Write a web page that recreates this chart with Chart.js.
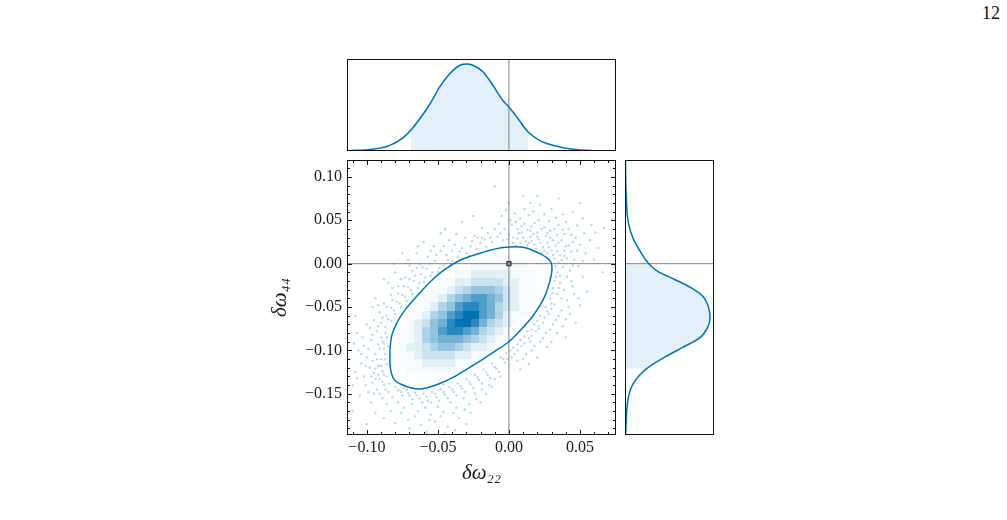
<!DOCTYPE html>
<html>
<head>
<meta charset="utf-8">
<script src="https://cdn.jsdelivr.net/npm/chart.js@4.4.1/dist/chart.umd.min.js"></script>
<style>
  body { margin: 0; background: #fff; width: 1007px; height: 520px; position: relative; overflow: hidden; }
  canvas { position: absolute; }
  #page { position: absolute; left: 982px; top: 3px; font: 18px 'Liberation Serif', serif; color: #111; }
</style>
</head>
<body>
<div id="page">12</div>
<canvas id="main" width="385" height="345" style="left:240px;top:150px"></canvas>
<canvas id="top" width="273" height="96" style="left:345px;top:57px"></canvas>
<canvas id="side" width="93" height="279" style="left:623px;top:158px"></canvas>
<script>
// axis limits of the main panel
var X_RANGE = [-0.114, 0.0754];
var Y_RANGE = [-0.1975, 0.1195];
var truthX = 0, truthY = 0;

// marginal of delta omega 22 (top)
var topX = [-0.1141,-0.0958,-0.0838,-0.0746,-0.0690,-0.0627,-0.0556,-0.0486,-0.0415,-0.0345,-0.0296,-0.0254,-0.0183,-0.0113,-0.0042,0.0000,0.0056,0.0134,0.0218,0.0338,0.0451,0.0592,0.0754];
var topDensity = [0.004,0.020,0.065,0.150,0.240,0.370,0.540,0.740,0.890,0.985,1.000,0.985,0.910,0.755,0.580,0.505,0.390,0.220,0.120,0.054,0.019,0.004,0.000];
var topShade = [-0.069, 0.0134];
var TOP_MAX = 1.057;

// marginal of delta omega 44 (right)
var sideY = [-0.1960,-0.1770,-0.1540,-0.1376,-0.1210,-0.1075,-0.0970,-0.0855,-0.0740,-0.0627,-0.0530,-0.0380,-0.0280,-0.0185,-0.0092,0.0000,0.0140,0.0280,0.0470,0.0740,0.0900,0.1180];
var sideDensity = [0.008,0.016,0.040,0.100,0.255,0.470,0.670,0.880,0.970,1.000,0.990,0.920,0.780,0.590,0.390,0.280,0.180,0.100,0.040,0.016,0.010,0.006];
var sideShade = [-0.121, 0.0];
var SIDE_MAX = 1.047;

// outer contour of the 2d posterior
var contourX = [-0.0838,-0.0825,-0.0790,-0.0730,-0.0650,-0.0560,-0.0470,-0.0345,-0.0183,-0.0042,0.0099,0.0218,0.0289,0.0303,0.0280,0.0240,0.0170,0.0080,0.0000,-0.0100,-0.0230,-0.0370,-0.0500,-0.0600,-0.0680,-0.0760,-0.0810,-0.0835];
var contourY = [-0.0994,-0.0830,-0.0686,-0.0530,-0.0378,-0.0220,-0.0090,0.0040,0.0130,0.0185,0.0190,0.0116,0.0035,-0.0069,-0.0250,-0.0420,-0.0600,-0.0770,-0.0900,-0.1010,-0.1150,-0.1290,-0.1390,-0.1440,-0.1435,-0.1390,-0.1330,-0.1200];

// 2d histogram inside the contour, level 0-9 per bin, rows from top
var histX0 = -0.0895, histDX = 0.0057, histYTop = 0.0204, histDY = 0.0093;
var histRows = [
  "000000000000000000000",
  "000000000000001100000",
  "000000000001111111000",
  "000000000112222211100",
  "000000011223333221100",
  "000000112345554321100",
  "000001124567765321100",
  "000011245788764321000",
  "000112457899764211000",
  "000123568998643210000",
  "001124578876432100000",
  "001124566654321000000",
  "001223455432210000000",
  "001123333221100000000",
  "001112222111000000000",
  "000111111100000000000",
  "000000000000000000000",
  "000000000000000000000"
];

// samples drawn outside the contour
var samples = [
  [-0.012,0.025],[-0.008,0.031],[-0.004,0.027],[0.000,0.034],[0.003,0.024],[0.006,0.029],[0.009,0.036],[0.012,0.026],[0.015,0.031],[0.018,0.022],
  [0.021,0.028],[0.024,0.019],[0.027,0.024],[0.030,0.015],[0.033,0.021],[0.036,0.010],[0.032,0.006],[0.035,0.001],[0.038,-0.004],[0.041,0.006],
  [0.044,0.014],[0.040,0.020],[0.037,0.027],[0.034,0.033],[0.029,0.038],[0.025,0.042],[0.020,0.036],[0.016,0.043],[0.011,0.046],[0.006,0.040],
  [0.002,0.045],[-0.003,0.040],[-0.007,0.046],[-0.015,0.035],[-0.019,0.041],[-0.022,0.030],[0.008,0.052],[0.014,0.056],[0.021,0.050],[0.028,0.049],
  [0.035,0.045],[0.042,0.040],[0.047,0.030],[0.050,0.022],[0.046,0.005],[0.049,-0.003],[0.054,0.012],[0.057,0.027],[0.061,0.036],[0.058,0.045],
  [0.052,0.052],[0.045,0.060],[0.038,0.057],[0.030,0.063],[0.022,0.068],[0.017,0.060],[0.004,0.058],[-0.005,0.055],[0.063,0.018],[0.067,0.041],
  [0.031,0.027],[0.026,0.032],[0.019,0.017],[0.013,0.021],[0.023,0.012],[0.016,0.026],[0.008,0.024],[0.039,0.015],[0.043,-0.008],[0.034,-0.010],
  [-0.025,0.055],[0.000,0.070],[-0.033,0.048],[0.010,0.078],[-0.010,0.089],[0.020,0.078],
  [0.005,0.021],[0.010,0.030],[0.014,0.024],[0.017,0.034],[0.022,0.024],[0.025,0.015],[0.028,0.019],[0.031,0.010],[0.034,0.014],[0.037,0.004],
  [0.033,-0.003],[0.036,-0.014],[0.039,0.009],[0.042,0.021],[0.045,0.025],[0.039,0.034],[0.032,0.040],[0.027,0.035],[0.023,0.040],[0.018,0.047],
  [0.013,0.039],[0.007,0.035],[0.003,0.030],[-0.001,0.028],[-0.006,0.035],[-0.010,0.040],[-0.013,0.030],[-0.017,0.028],[0.001,0.050],[0.011,0.063],
  [0.025,0.057],[0.033,0.053],[0.040,0.048],[0.048,0.044],[0.053,0.035],[0.048,0.015],[0.052,0.003],[0.045,-0.002],[0.041,-0.015],[0.029,0.030],
  [0.020,0.031],[0.015,0.038],[0.009,0.043],[0.005,0.048],[0.035,0.024],[0.038,0.039],[0.044,0.033],[0.027,0.012],[-0.002,0.062],[0.015,0.070],
  [-0.030,0.012],[-0.036,0.008],[-0.027,0.020],[-0.033,0.018],[-0.040,0.003],[-0.044,0.010],[-0.038,0.022],[-0.046,-0.002],[-0.050,-0.009],[-0.052,0.003],
  [-0.048,0.015],[-0.055,-0.014],[-0.058,-0.006],[-0.060,-0.021],[-0.062,-0.012],[-0.064,-0.028],[-0.067,-0.020],[-0.068,-0.035],[-0.071,-0.027],[-0.072,-0.043],
  [-0.075,-0.036],[-0.076,-0.050],[-0.079,-0.044],[-0.080,-0.058],[-0.083,-0.051],[-0.083,-0.066],[-0.086,-0.060],[-0.087,-0.073],[-0.090,-0.068],[-0.057,0.008],
  [-0.063,0.000],[-0.068,-0.008],[-0.073,-0.016],[-0.078,-0.026],[-0.083,-0.036],[-0.088,-0.046],[-0.091,-0.056],[-0.020,0.024],[-0.024,0.032],[-0.016,0.019],
  [-0.042,0.027],[-0.053,0.020],[-0.065,0.012],[-0.071,0.004],[-0.080,-0.010],[-0.094,-0.040],[-0.060,0.025],[-0.048,0.035],[-0.085,-0.022],[-0.044,-0.007],
  [-0.041,-0.001],[-0.088,-0.018],[-0.096,-0.050],[-0.075,0.012],
  [-0.028,0.009],[-0.032,0.005],[-0.035,0.014],[-0.039,-0.002],[-0.043,0.004],[-0.046,0.020],[-0.049,-0.005],[-0.051,0.010],[-0.054,-0.010],[-0.056,0.000],
  [-0.059,-0.016],[-0.061,-0.004],[-0.063,-0.022],[-0.066,-0.014],[-0.069,-0.030],[-0.070,-0.018],[-0.073,-0.038],[-0.074,-0.026],[-0.077,-0.046],[-0.078,-0.034],
  [-0.081,-0.054],[-0.082,-0.042],[-0.085,-0.064],[-0.086,-0.050],[-0.089,-0.062],[-0.023,0.017],[-0.019,0.030],[-0.026,0.026],[-0.031,0.030],[-0.037,0.034],
  [-0.040,0.015],[-0.055,0.015],[-0.065,-0.005],[-0.070,-0.002],[-0.076,-0.018],[-0.082,-0.028],[-0.092,-0.048],[-0.045,0.040],[-0.064,0.020],[-0.081,0.000],
  [-0.087,-0.080],[-0.090,-0.085],[-0.088,-0.092],[-0.093,-0.078],[-0.091,-0.098],[-0.087,-0.104],[-0.094,-0.104],[-0.090,-0.110],[-0.086,-0.116],[-0.092,-0.118],
  [-0.096,-0.112],[-0.089,-0.124],[-0.095,-0.126],[-0.086,-0.130],[-0.091,-0.133],[-0.098,-0.120],[-0.099,-0.098],[-0.097,-0.088],[-0.100,-0.108],[-0.102,-0.130],
  [-0.096,-0.137],[-0.088,-0.140],[-0.093,-0.145],[-0.099,-0.148],[-0.104,-0.115],[-0.106,-0.100],[-0.103,-0.085],[-0.100,-0.070],[-0.095,-0.065],[-0.108,-0.125],
  [-0.110,-0.140],[-0.105,-0.152],[-0.097,-0.160],[-0.085,-0.148],[-0.084,-0.138],[-0.089,-0.155],[-0.112,-0.110],[-0.107,-0.080],[-0.085,-0.095],
  [-0.086,-0.085],[-0.089,-0.090],[-0.092,-0.093],[-0.088,-0.098],[-0.093,-0.110],[-0.087,-0.110],[-0.090,-0.118],[-0.094,-0.121],[-0.088,-0.128],[-0.092,-0.128],
  [-0.089,-0.136],[-0.094,-0.133],[-0.097,-0.130],[-0.101,-0.118],[-0.102,-0.095],[-0.096,-0.082],[-0.092,-0.072],[-0.098,-0.074],[-0.104,-0.104],[-0.101,-0.140],
  [-0.095,-0.150],[-0.091,-0.150],[-0.087,-0.145],[-0.107,-0.132],[-0.109,-0.092],
  [-0.080,-0.142],[-0.076,-0.148],[-0.072,-0.145],[-0.070,-0.152],[-0.066,-0.149],[-0.063,-0.155],[-0.060,-0.150],[-0.057,-0.158],[-0.054,-0.148],[-0.051,-0.154],
  [-0.048,-0.145],[-0.045,-0.151],[-0.042,-0.142],[-0.039,-0.148],[-0.036,-0.138],[-0.033,-0.144],[-0.030,-0.133],[-0.027,-0.139],[-0.024,-0.128],[-0.021,-0.134],
  [-0.018,-0.122],[-0.015,-0.128],[-0.012,-0.115],[-0.009,-0.121],[-0.006,-0.108],[-0.003,-0.114],[-0.078,-0.160],[-0.074,-0.166],[-0.068,-0.162],[-0.064,-0.170],
  [-0.059,-0.166],[-0.055,-0.174],[-0.050,-0.165],[-0.046,-0.171],[-0.041,-0.160],[-0.037,-0.166],[-0.032,-0.155],[-0.028,-0.162],[-0.024,-0.150],[-0.019,-0.145],
  [-0.014,-0.140],[-0.010,-0.133],[-0.083,-0.170],[-0.088,-0.178],[-0.080,-0.184],[-0.071,-0.180],[-0.062,-0.186],[-0.052,-0.182],[-0.043,-0.188],[-0.035,-0.178],
  [-0.027,-0.172],[-0.020,-0.160],[-0.094,-0.172],[-0.100,-0.185],[-0.058,-0.194],[-0.038,-0.192],[-0.074,-0.143],[-0.046,-0.139],
  [-0.078,-0.146],[-0.075,-0.152],[-0.071,-0.149],[-0.068,-0.156],[-0.065,-0.152],[-0.061,-0.160],[-0.058,-0.153],[-0.055,-0.160],[-0.052,-0.150],[-0.049,-0.158],
  [-0.046,-0.148],[-0.043,-0.155],[-0.040,-0.145],[-0.037,-0.152],[-0.034,-0.141],[-0.031,-0.148],[-0.028,-0.136],[-0.025,-0.143],[-0.022,-0.131],[-0.019,-0.138],
  [-0.016,-0.125],[-0.013,-0.132],[-0.010,-0.119],[-0.007,-0.125],[-0.004,-0.110],[-0.082,-0.154],[-0.076,-0.172],[-0.066,-0.176],[-0.056,-0.180],[-0.048,-0.176],
  [-0.039,-0.172],[-0.031,-0.168],[-0.023,-0.156],[-0.016,-0.150],[-0.012,-0.142],[-0.006,-0.130],[-0.086,-0.162],[-0.070,-0.190],[-0.045,-0.195],[-0.030,-0.185],
  [0.033,-0.015],[0.036,-0.022],[0.031,-0.028],[0.034,-0.035],[0.029,-0.040],[0.032,-0.047],[0.026,-0.050],[0.028,-0.058],[0.022,-0.060],[0.024,-0.068],
  [0.018,-0.070],[0.019,-0.078],[0.013,-0.078],[0.014,-0.086],[0.008,-0.088],[0.009,-0.095],[0.003,-0.097],[0.004,-0.104],[-0.002,-0.103],[-0.001,-0.110],
  [0.039,-0.030],[0.041,-0.042],[0.037,-0.054],[0.033,-0.065],[0.029,-0.076],[0.024,-0.086],[0.018,-0.095],[0.012,-0.104],[0.006,-0.112],[0.044,-0.020],
  [0.046,-0.035],[0.043,-0.058],[0.038,-0.072],[0.030,-0.090],[0.020,-0.108],[0.050,-0.048],[0.052,-0.015],[0.040,-0.085],[0.008,-0.122],[0.026,-0.034],
  [0.030,-0.052],[0.021,-0.072],[0.015,-0.090],[0.055,-0.032],[0.047,-0.068],
  [0.032,-0.020],[0.035,-0.028],[0.031,-0.034],[0.030,-0.046],[0.027,-0.055],[0.025,-0.062],[0.020,-0.066],[0.021,-0.075],[0.016,-0.076],[0.016,-0.083],
  [0.011,-0.084],[0.011,-0.092],[0.006,-0.093],[0.006,-0.100],[0.001,-0.100],[0.002,-0.108],[0.037,-0.040],[0.035,-0.060],[0.031,-0.070],[0.026,-0.080],
  [0.022,-0.090],[0.016,-0.100],[0.010,-0.110],[0.042,-0.050],[0.045,-0.026],[0.040,-0.064],[0.034,-0.080],[0.027,-0.096],[0.014,-0.116],[0.049,-0.040],
  [0.060,0.005],[0.066,-0.010],[-0.110,-0.170],[-0.108,-0.060],[0.050,0.070],[0.035,0.075]
];

var BLUE = '#0173b2';
var SERIF = "'Liberation Serif', 'DejaVu Serif', serif";
Chart.defaults.font.family = SERIF;
Chart.defaults.color = '#1a1a1a';

function fmt(v) {
  if (Math.abs(v) < 1e-9) return '0.00';
  return (v < 0 ? '\u2212' : '') + Math.abs(v).toFixed(2);
}

function pts(xs, ys) {
  return xs.map(function(x, i) { return {x: x, y: ys[i]}; });
}

// box round each panel, with inward ticks on the main one
var framePlugin = {
  id: 'panelFrame',
  afterDraw: function(chart, args, opts) {
    var a = chart.chartArea, ctx = chart.ctx;
    var l = Math.round(a.left) + 0.5, r = Math.round(a.right) - 0.5;
    var t = Math.round(a.top) + 0.5, b = Math.round(a.bottom) - 0.5;
    ctx.save();
    ctx.strokeStyle = '#111';
    ctx.lineWidth = 1;
    if (opts.ticks) {
      ['x', 'y'].forEach(function(id) {
        var s = chart.scales[id];
        var k0 = Math.ceil(s.min / 0.01 - 1e-9), k1 = Math.floor(s.max / 0.01 + 1e-9);
        for (var k = k0; k <= k1; k++) {
          var len = (k % 5 === 0) ? 4.5 : 2.5;
          var p = Math.round(s.getPixelForValue(k * 0.01)) + 0.5;
          ctx.beginPath();
          if (id === 'x') {
            ctx.moveTo(p, b); ctx.lineTo(p, b - len);
            ctx.moveTo(p, t); ctx.lineTo(p, t + len);
          } else {
            ctx.moveTo(l, p); ctx.lineTo(l + len, p);
            ctx.moveTo(r, p); ctx.lineTo(r - len, p);
          }
          ctx.stroke();
        }
      });
    }
    ctx.strokeRect(l, t, r - l, b - t);
    ctx.restore();
  }
};

// white inside of the contour with the binned density on it
var densityPlugin = {
  id: 'densityCells',
  afterDatasetDraw: function(chart, args) {
    if (args.index !== 0) return;
    var xs = chart.scales.x, ys = chart.scales.y, ctx = chart.ctx, a = chart.chartArea;
    ctx.save();
    ctx.beginPath();
    ctx.rect(a.left, a.top, a.right - a.left, a.bottom - a.top);
    ctx.clip();
    ctx.beginPath();
    contourX.forEach(function(x, i) {
      var px = xs.getPixelForValue(x), py = ys.getPixelForValue(contourY[i]);
      if (i) ctx.lineTo(px, py); else ctx.moveTo(px, py);
    });
    ctx.closePath();
    ctx.fillStyle = '#fff';
    ctx.fill();
    ctx.clip();
    histRows.forEach(function(row, r) {
      for (var c = 0; c < row.length; c++) {
        var lv = +row[c];
        if (!lv) continue;
        var x0 = Math.round(xs.getPixelForValue(histX0 + c * histDX));
        var x1 = Math.round(xs.getPixelForValue(histX0 + (c + 1) * histDX));
        var y0 = Math.round(ys.getPixelForValue(histYTop - r * histDY));
        var y1 = Math.round(ys.getPixelForValue(histYTop - (r + 1) * histDY));
        ctx.fillStyle = 'rgba(1,115,178,' + Math.pow(lv / 9, 1.45).toFixed(3) + ')';
        ctx.fillRect(x0, y0, x1 - x0, y1 - y0);
      }
    });
    ctx.restore();
  }
};

var contourPts = pts(contourX, contourY);
contourPts.push(contourPts[0]);

new Chart(document.getElementById('main'), {
  type: 'scatter',
  data: {
    datasets: [
      {
        data: samples.map(function(p) { return {x: p[0], y: p[1]}; }),
        pointRadius: 1.2, pointBorderWidth: 0,
        pointBackgroundColor: 'rgba(1,115,178,0.28)',
        order: 4
      },
      {
        data: [{x: truthX, y: Y_RANGE[0]}, {x: truthX, y: Y_RANGE[1]}],
        showLine: true, borderColor: 'rgba(100,100,100,0.8)', borderWidth: 1, pointRadius: 0,
        order: 3
      },
      {
        data: [{x: X_RANGE[0], y: truthY}, {x: X_RANGE[1], y: truthY}],
        showLine: true, borderColor: 'rgba(100,100,100,0.8)', borderWidth: 1, pointRadius: 0,
        order: 3
      },
      {
        data: contourPts,
        showLine: true, borderColor: BLUE, borderWidth: 1.5, pointRadius: 0, tension: 0.3,
        order: 2
      },
      {
        data: [{x: truthX, y: truthY}],
        pointStyle: 'rect', pointRadius: 3,
        pointBackgroundColor: '#8c8c8c', pointBorderColor: '#222', pointBorderWidth: 1,
        order: 1
      }
    ]
  },
  options: {
    animation: false,
    responsive: false,
    devicePixelRatio: 1,
    layout: { padding: { top: 10, right: 9, left: 0, bottom: 0 } },
    scales: {
      x: {
        type: 'linear', min: X_RANGE[0], max: X_RANGE[1],
        grid: { display: false, drawTicks: false }, border: { display: false },
        ticks: { stepSize: 0.05, includeBounds: false, autoSkip: false, maxRotation: 0, padding: 3, font: { size: 16 }, callback: fmt },
        title: { display: true, text: 'δω₂₂', font: { size: 21, style: 'italic' }, padding: { top: 0, bottom: 9 } },
        afterFit: function(s) { s.height = 60; s.paddingLeft = 0; s.paddingRight = 0; }
      },
      y: {
        type: 'linear', min: Y_RANGE[0], max: Y_RANGE[1],
        grid: { display: false, drawTicks: false }, border: { display: false },
        ticks: { stepSize: 0.05, includeBounds: false, autoSkip: false, padding: 5, font: { size: 16 }, callback: fmt },
        title: { display: true, text: 'δω₄₄', font: { size: 21, style: 'italic' }, padding: { top: 28, bottom: 0 } },
        afterFit: function(s) { s.width = 107; s.paddingTop = 0; s.paddingBottom = 0; }
      }
    },
    plugins: { legend: { display: false }, tooltip: { enabled: false }, panelFrame: { ticks: true } }
  },
  plugins: [densityPlugin, framePlugin]
});

var topPts = pts(topX, topDensity);
new Chart(document.getElementById('top'), {
  type: 'line',
  data: {
    datasets: [
      { data: topPts, borderColor: BLUE, borderWidth: 1.5, pointRadius: 0, cubicInterpolationMode: 'monotone', fill: false },
      { data: [{x: truthX, y: 0}, {x: truthX, y: TOP_MAX}], borderColor: 'rgba(100,100,100,0.8)', borderWidth: 1, pointRadius: 0, fill: false },
      {
        data: topPts.filter(function(p) { return p.x >= topShade[0] - 1e-9 && p.x <= topShade[1] + 1e-9; }),
        borderWidth: 0, pointRadius: 0, cubicInterpolationMode: 'monotone',
        backgroundColor: 'rgba(1,115,178,0.11)', fill: 'origin'
      }
    ]
  },
  options: {
    animation: false, responsive: false, devicePixelRatio: 1,
    layout: { padding: 2 },
    scales: {
      x: { type: 'linear', display: false, min: X_RANGE[0], max: X_RANGE[1] },
      y: { type: 'linear', display: false, min: 0, max: TOP_MAX }
    },
    plugins: { legend: { display: false }, tooltip: { enabled: false }, panelFrame: { ticks: false } }
  },
  plugins: [framePlugin]
});

var sidePts = sideY.map(function(y, i) { return {x: sideDensity[i], y: y}; });
new Chart(document.getElementById('side'), {
  type: 'line',
  data: {
    datasets: [
      { data: sidePts, borderColor: BLUE, borderWidth: 1.5, pointRadius: 0, cubicInterpolationMode: 'monotone', fill: false },
      { data: [{x: 0, y: truthY}, {x: SIDE_MAX, y: truthY}], borderColor: 'rgba(100,100,100,0.8)', borderWidth: 1, pointRadius: 0, fill: false },
      {
        data: sidePts.filter(function(p) { return p.y >= sideShade[0] - 1e-9 && p.y <= sideShade[1] + 1e-9; }),
        borderWidth: 0, pointRadius: 0, cubicInterpolationMode: 'monotone',
        backgroundColor: 'rgba(1,115,178,0.11)', fill: 'origin'
      }
    ]
  },
  options: {
    indexAxis: 'y',
    animation: false, responsive: false, devicePixelRatio: 1,
    layout: { padding: 2 },
    scales: {
      x: { type: 'linear', display: false, min: 0, max: SIDE_MAX },
      y: { type: 'linear', display: false, min: Y_RANGE[0], max: Y_RANGE[1] }
    },
    plugins: { legend: { display: false }, tooltip: { enabled: false }, panelFrame: { ticks: false } }
  },
  plugins: [framePlugin]
});
</script>
</body>
</html>
